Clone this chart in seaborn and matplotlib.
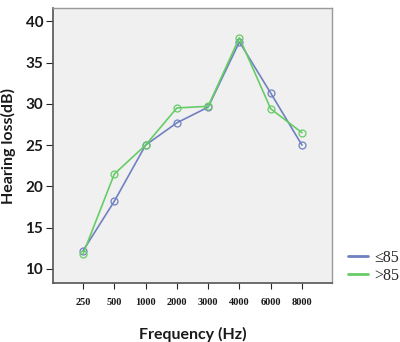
import matplotlib
matplotlib.use("Agg")
import matplotlib.pyplot as plt
import seaborn as sns
import pandas as pd
from matplotlib.lines import Line2D

# Audiometric frequencies (Hz) and mean hearing loss per group
frequencies = ["250", "500", "1000", "2000", "3000", "4000", "6000", "8000"]
loss_le85 = [12.2, 18.2, 25.0, 27.7, 29.6, 37.5, 31.3, 25.0]
loss_gt85 = [11.8, 21.5, 25.0, 29.5, 29.7, 38.0, 29.4, 26.5]
groups = ["≤85", ">85"]
palette = {"≤85": "#7080c0", ">85": "#66cc66"}

df = pd.DataFrame({
    "Frequency": frequencies * 2,
    "Loss": loss_le85 + loss_gt85,
    "Group": [groups[0]] * len(frequencies) + [groups[1]] * len(frequencies),
})
df["pos"] = df["Frequency"].map({f: i for i, f in enumerate(frequencies)})

sns.set_style("white")
plt.rcParams["font.family"] = ["Lato", "DejaVu Sans"]
fig = plt.figure(figsize=(4.0, 3.42), dpi=100)
ax = fig.add_axes([0.1325, 0.1725, 0.6975, 0.804])
ax.set_facecolor("#f0f0f0")

sns.lineplot(data=df, x="pos", y="Loss", hue="Group", palette=palette,
             hue_order=groups, sort=False, ax=ax, linewidth=1.2,
             marker="o", markersize=5, markerfacecolor="none",
             markeredgewidth=0.9, legend=False)
for line, g in zip(ax.lines, groups):
    line.set_markeredgecolor(palette[g])

ax.set_xlim(-0.96, 7.96)
ax.set_ylim(8.3, 41.6)
ax.set_xticks(range(len(frequencies)))
ax.set_xticklabels(frequencies, fontsize=7.5, family="Liberation Serif",
                   fontweight="bold")
ax.set_yticks([10, 15, 20, 25, 30, 35, 40])
ax.tick_params(axis="y", labelsize=11, length=5, width=0.8, direction="out",
               left=True, pad=2, labelcolor="#1a1a1a")
ax.tick_params(axis="x", length=4, width=0.8, direction="out", bottom=True,
               pad=7, labelcolor="#1a1a1a")
for lab in ax.get_yticklabels():
    lab.set_fontweight("bold")

ax.set_xlabel("Frequency (Hz)", fontsize=11.5, fontweight="bold",
              labelpad=14, color="#1a1a1a")
ax.set_ylabel("Hearing loss(dB)", fontsize=11.5, fontweight="bold",
              labelpad=7, color="#1a1a1a")

for side in ["left", "bottom"]:
    ax.spines[side].set_color("#555555")
    ax.spines[side].set_linewidth(1.2)
for side in ["top", "right"]:
    ax.spines[side].set_color("#999999")
    ax.spines[side].set_linewidth(1.0)

handles = [Line2D([0], [0], color=palette[g], lw=2) for g in groups]
fig.legend(handles, groups, loc="center left", bbox_to_anchor=(0.87, 0.22),
           frameon=False, prop={"family": "Liberation Serif", "size": 11.5},
           borderpad=0, borderaxespad=0,
           handlelength=1.25, handletextpad=0.4, labelspacing=0.15)

fig.savefig("out.png", dpi=100)
